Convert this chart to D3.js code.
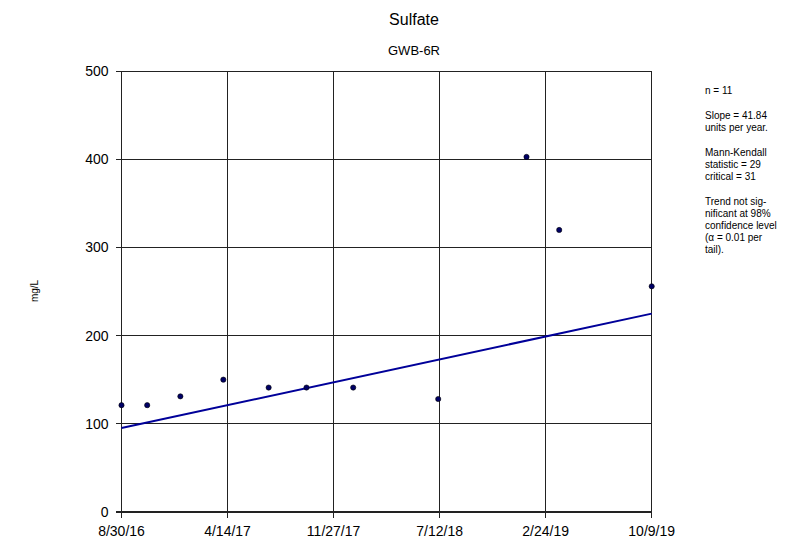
<!DOCTYPE html>
<html><head><meta charset="utf-8">
<script src="https://cdn.jsdelivr.net/npm/d3@7"></script>
<style>body{margin:0;background:#fff}svg{display:block;font-family:"Liberation Sans",Arial,sans-serif}</style>
</head><body><svg id="c" width="791" height="544"></svg>
<script>
const sampleDates = ["2016-08-30","2016-10-24","2017-01-03","2017-04-05","2017-07-11","2017-09-30","2018-01-08","2018-07-09","2019-01-14","2019-03-25","2019-10-09"];
const sulfate = [121, 121, 131, 150, 141, 141, 141, 128, 403, 320, 256];
const trendDates = ["2016-08-30","2019-10-09"];
const trendValues = [95, 225];
const xTickLabels = ["8/30/16","4/14/17","11/27/17","7/12/18","2/24/19","10/9/19"];
const yTicks = [0,100,200,300,400,500];
const notes = [["n = 11"],["Slope = 41.84","units per year."],["Mann-Kendall","statistic = 29","critical = 31"],["Trend not sig-","nificant at 98%","confidence level","(α = 0.01 per","tail)."]];

const svg = d3.select("#c");
const L=121.5, R=651.7, T=71.5, B=511.7;
const parse = d3.utcParse("%Y-%m-%d");
const parseTick = d3.utcParse("%m/%d/%y");
const x = d3.scaleUtc().domain([parse("2016-08-30"), parse("2019-10-09")]).range([L,R]);
const y = d3.scaleLinear().domain([0,500]).range([B,T]);

// grid
const tickDates = xTickLabels.map(s=>parseTick(s));
svg.append("g").selectAll("line").data(yTicks).join("line")
  .attr("x1",L-6).attr("x2",R).attr("y1",d=>y(d)).attr("y2",d=>y(d))
  .attr("stroke","#222").attr("stroke-width",d=>d===0?2:1).attr("shape-rendering","crispEdges");
svg.append("g").selectAll("line").data(tickDates).join("line")
  .attr("x1",d=>x(d)).attr("x2",d=>x(d)).attr("y1",T).attr("y2",B+6)
  .attr("stroke","#222").attr("stroke-width",1).attr("shape-rendering","crispEdges");

// y labels
svg.append("g").selectAll("text").data(yTicks).join("text")
  .attr("x",L-13).attr("y",d=>y(d)).attr("dy","0.35em").attr("text-anchor","end")
  .attr("font-size",14).text(d=>d);
// x labels
svg.append("g").selectAll("text").data(tickDates).join("text")
  .attr("x",d=>x(d)).attr("y",B+24).attr("text-anchor","middle")
  .attr("font-size",14).text((d,i)=>xTickLabels[i]);

// trend
svg.append("path").datum(trendDates.map((d,i)=>[parse(d),trendValues[i]]))
  .attr("d", d3.line().x(d=>x(d[0])).y(d=>y(d[1])))
  .attr("stroke","#000099").attr("stroke-width",2).attr("fill","none");

// points
svg.append("g").selectAll("circle").data(sampleDates.map((d,i)=>[parse(d),sulfate[i]])).join("circle")
  .attr("cx",d=>x(d[0])).attr("cy",d=>y(d[1])).attr("r",2.6)
  .attr("fill","#000066").attr("stroke","#000").attr("stroke-width",0.6);

// titles
svg.append("text").attr("x",414).attr("y",25).attr("text-anchor","middle").attr("font-size",16).text("Sulfate");
svg.append("text").attr("x",414).attr("y",55).attr("text-anchor","middle").attr("font-size",13).text("GWB-6R");
svg.append("text").attr("transform","translate(38,291) rotate(-90)").attr("text-anchor","middle").attr("font-size",10).text("mg/L");

// notes
let yy = 94;
const ng = svg.append("g").attr("font-size",10);
notes.forEach(block=>{
  block.forEach(line=>{ ng.append("text").attr("x",705).attr("y",yy).text(line); yy+=12; });
  yy+=13;
});
</script></body></html>
